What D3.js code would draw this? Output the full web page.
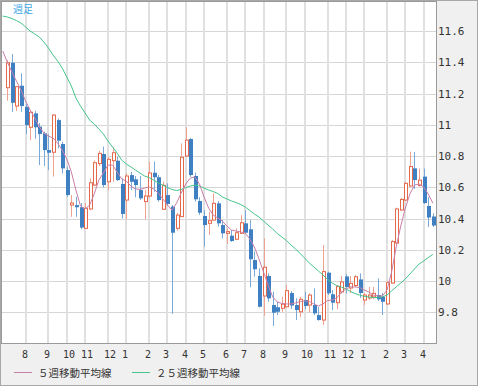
<!DOCTYPE html>
<html>
<head>
<meta charset="utf-8">
<script src="https://cdn.jsdelivr.net/npm/d3@7"></script>
<style>
  html, body { margin: 0; padding: 0; background: #f0f0f0; }
  svg { display: block; }
</style>
</head>
<body>
<div id="chart"></div>
<script>
// weekly candles, one per week (index 0 = first visible week)
const opens = [11.237,11.397,11.120,11.250,11.115,10.984,11.073,10.988,10.945,10.838,
  10.824,11.030,10.877,10.710,10.486,10.486,10.472,10.337,10.461,10.614,
  10.752,10.813,10.635,10.770,10.770,10.621,10.518,10.678,10.651,10.582,
  10.508,10.544,10.693,10.664,10.459,10.550,10.476,10.337,10.412,10.800,
  10.909,10.672,10.512,10.416,10.369,10.390,10.497,10.358,10.305,10.290,
  10.267,10.305,10.369,10.331,10.134,10.032,9.904,10.032,9.846,9.832,
  9.825,9.835,9.923,9.846,9.803,9.878,9.846,9.846,9.782,9.750,
  10.053,9.915,9.861,9.930,10.029,9.955,9.971,10.010,9.878,9.891,
  9.898,9.910,9.899,9.853,9.987,10.243,10.454,10.518,10.608,10.721,
  10.611,10.668,10.480,10.413]
const highs = [11.414,11.453,11.248,11.329,11.133,11.094,11.090,11.011,10.956,10.939,
  11.069,11.041,10.891,10.731,10.550,10.539,10.499,10.497,10.657,10.771,
  10.834,10.860,10.795,10.856,10.795,10.657,10.689,10.698,10.672,10.672,
  10.582,10.764,10.764,10.678,10.636,10.625,10.486,10.437,10.881,10.984,
  10.915,10.693,10.536,10.454,10.443,10.561,10.512,10.390,10.337,10.326,
  10.337,10.422,10.454,10.390,10.188,10.081,10.273,10.049,9.932,9.867,
  9.899,9.974,9.936,9.889,9.899,9.932,9.921,9.952,9.832,10.230,
  10.060,9.942,9.974,10.032,10.045,10.032,10.038,10.049,9.923,9.962,
  9.963,10.017,9.923,10.000,10.262,10.470,10.531,10.635,10.828,10.826,
  10.720,10.720,10.538,10.433]
const lows = [11.154,11.083,11.088,11.083,10.939,10.902,10.911,10.742,10.736,10.710,
  10.668,10.849,10.689,10.539,10.411,10.411,10.331,10.336,10.454,10.608,
  10.736,10.600,10.582,10.635,10.640,10.401,10.395,10.582,10.536,10.518,
  10.395,10.531,10.572,10.508,10.454,10.480,9.789,10.322,10.410,10.794,
  10.667,10.508,10.422,10.220,10.294,10.384,10.348,10.273,10.237,10.250,
  10.262,10.301,10.301,9.960,10.028,9.830,9.778,9.867,9.712,9.782,
  9.802,9.830,9.821,9.750,9.768,9.819,9.800,9.782,9.746,9.718,
  9.910,9.814,9.819,9.920,9.920,9.923,9.962,9.891,9.846,9.878,
  9.885,9.872,9.782,9.846,9.981,10.237,10.448,10.512,10.602,10.589,
  10.605,10.493,10.346,10.346]
const closes = [11.397,11.141,11.244,11.120,10.998,11.080,10.984,10.941,10.838,10.821,
  11.062,10.898,10.721,10.550,10.499,10.472,10.342,10.465,10.629,10.757,
  10.817,10.614,10.779,10.821,10.646,10.429,10.672,10.635,10.614,10.529,
  10.544,10.691,10.664,10.518,10.612,10.493,10.309,10.422,10.792,10.902,
  10.678,10.523,10.437,10.358,10.386,10.497,10.369,10.305,10.316,10.256,
  10.309,10.373,10.309,10.139,10.075,9.835,10.088,9.889,9.797,9.803,
  9.851,9.938,9.843,9.814,9.883,9.840,9.910,9.793,9.750,10.060,
  9.921,9.861,9.964,9.994,9.962,9.985,10.027,9.923,9.910,9.910,
  9.921,9.883,9.867,9.989,10.252,10.461,10.522,10.625,10.733,10.646,
  10.646,10.499,10.406,10.355]

// moving averages as drawn, starting one week before the first visible candle
const maFirstWeek = -1
const ma5 = [11.472,11.402,11.338,11.280,11.222,11.152,11.094,11.043,10.986,10.947,10.928,
  10.915,10.883,10.838,10.781,10.698,10.582,10.480,10.461,10.486,10.557,
  10.646,10.691,10.742,10.742,10.698,10.653,10.640,10.608,10.589,10.586,
  10.595,10.602,10.589,10.563,10.525,10.486,10.454,10.499,10.563,10.621,
  10.659,10.666,10.621,10.538,10.467,10.422,10.403,10.384,10.352,10.326,
  10.320,10.314,10.307,10.269,10.218,10.141,10.058,9.974,9.898,9.866,
  9.856,9.853,9.853,9.859,9.869,9.872,9.869,9.853,9.840,9.853,
  9.875,9.878,9.891,9.926,9.949,9.962,9.962,9.958,9.942,9.930,
  9.910,9.904,9.904,9.942,10.058,10.218,10.352,10.467,10.557,10.614,
  10.621,10.602,10.557,10.499]
const ma25 = [11.696,11.690,11.680,11.667,11.651,11.626,11.600,11.581,11.562,11.530,11.491,
  11.446,11.408,11.363,11.306,11.248,11.171,11.120,11.075,11.030,11.005,
  10.973,10.941,10.896,10.858,10.819,10.774,10.749,10.730,10.710,10.691,
  10.672,10.662,10.646,10.627,10.614,10.598,10.586,10.579,10.586,10.598,
  10.608,10.614,10.608,10.595,10.582,10.573,10.560,10.538,10.525,10.512,
  10.502,10.490,10.474,10.451,10.429,10.410,10.384,10.358,10.333,10.304,
  10.282,10.259,10.230,10.205,10.176,10.147,10.115,10.090,10.064,10.038,
  10.010,9.987,9.971,9.962,9.949,9.933,9.920,9.910,9.901,9.898,
  9.894,9.894,9.898,9.910,9.936,9.962,9.987,10.013,10.045,10.077,
  10.109,10.128,10.150,10.170]

// first week of each month and its label
const monthWeeks = [4,9,13,17,22,26,31,35,39,43,48,52,56,61,65,70,74,78,83,87,91]
const monthLabels = ['8','9','10','11','12','1','2','3','4','5','6','7','8','9','10','11','12','1','2','3','4']
const yTicks = [9.8,10,10.2,10.4,10.6,10.8,11,11.2,11.4,11.6]

const W = 478, H = 386
const plot = { left: 2, top: 2, right: 436, bottom: 343 }

const upColor = '#e4694c', upWick = '#f0a18f'
const downColor = '#3f80c2', downWick = '#78a9d9'
const ma5Color = '#c97fa6', ma25Color = '#45c48b'

const svg = d3.select('#chart').append('svg')
  .attr('width', W)
  .attr('height', H)

svg.append('rect')
  .attr('x', 0.5).attr('y', 0.5)
  .attr('width', W - 1).attr('height', H - 1)
  .attr('fill', '#f0f0f0')
  .attr('stroke', '#a8a8a8')

const x = d3.scaleLinear()
  .domain([-1.16, 93.7])
  .range([plot.left, plot.right])

const y = d3.scaleLinear()
  .domain([9.603, 11.786])
  .range([plot.bottom, plot.top])

svg.append('rect')
  .attr('x', plot.left).attr('y', plot.top)
  .attr('width', plot.right - plot.left).attr('height', plot.bottom - plot.top)
  .attr('fill', '#fff')

svg.append('clipPath').attr('id', 'clip')
  .append('rect')
  .attr('x', plot.left).attr('y', plot.top)
  .attr('width', plot.right - plot.left).attr('height', plot.bottom - plot.top)

// grid
const grid = svg.append('g')
grid.selectAll('.hg').data(yTicks).enter().append('line')
  .attr('x1', plot.left).attr('x2', plot.right)
  .attr('y1', d => Math.round(y(d)) + 0.5).attr('y2', d => Math.round(y(d)) + 0.5)
  .attr('stroke', '#d6d6d6')
grid.selectAll('.vg').data(monthWeeks).enter().append('line')
  .attr('x1', d => Math.round(x(d))).attr('x2', d => Math.round(x(d)))
  .attr('y1', plot.top).attr('y2', plot.bottom)
  .attr('stroke', '#e0e0e0')
  .attr('stroke-width', 2)

const g = svg.append('g').attr('clip-path', 'url(#clip)')

const candles = closes.map((c, i) => ({ i: i, o: opens[i], h: highs[i], l: lows[i], c: c }))

// wicks
g.selectAll('.wick').data(candles).enter().append('line')
  .attr('x1', d => Math.round(x(d.i)) + 0.5)
  .attr('x2', d => Math.round(x(d.i)) + 0.5)
  .attr('y1', d => y(d.h))
  .attr('y2', d => y(d.l))
  .attr('stroke', d => d.c >= d.o ? upWick : downWick)
  .attr('stroke-width', 1)

// bodies
g.selectAll('.down').data(candles.filter(d => d.c < d.o)).enter().append('rect')
  .attr('x', d => Math.round(x(d.i)) - 1)
  .attr('y', d => y(d.o))
  .attr('width', 4)
  .attr('height', d => Math.max(1.5, y(d.c) - y(d.o)))
  .attr('fill', downColor)

g.selectAll('.up').data(candles.filter(d => d.c >= d.o)).enter().append('rect')
  .attr('x', d => Math.round(x(d.i)) - 0.5)
  .attr('y', d => y(d.c))
  .attr('width', 3)
  .attr('height', d => Math.max(1, y(d.o) - y(d.c)))
  .attr('fill', '#fff')
  .attr('stroke', upColor)
  .attr('stroke-width', 1)

const line = d3.line()
  .x((d, i) => x(i + maFirstWeek))
  .y(d => y(d))

g.append('path').datum(ma25)
  .attr('d', line)
  .attr('fill', 'none')
  .attr('stroke', ma25Color)
  .attr('stroke-width', 1)

g.append('path').datum(ma5)
  .attr('d', line)
  .attr('fill', 'none')
  .attr('stroke', ma5Color)
  .attr('stroke-width', 1)

// plot frame
svg.append('rect')
  .attr('x', plot.left - 0.5).attr('y', plot.top - 0.5)
  .attr('width', plot.right - plot.left + 1).attr('height', plot.bottom - plot.top + 1)
  .attr('fill', 'none')
  .attr('stroke', '#9a9a9a')

svg.append('text')
  .attr('x', 13).attr('y', 13)
  .attr('font-family', "'Noto Sans CJK JP', sans-serif")
  .attr('font-size', 10)
  .attr('fill', '#3aa6e6')
  .text('週足')

// right axis labels
svg.append('g').selectAll('text').data(yTicks).enter().append('text')
  .attr('x', plot.right + 2)
  .attr('y', d => y(d) + 4)
  .attr('font-family', "'DejaVu Sans Mono', monospace")
  .attr('font-size', 11)
  .attr('fill', '#333')
  .text(d => d3.format('~g')(d))

// month labels
svg.append('g').selectAll('text').data(monthWeeks).enter().append('text')
  .attr('x', d => Math.round(x(d)) - 4)
  .attr('y', 358)
  .attr('font-family', "'DejaVu Sans Mono', monospace")
  .attr('font-size', 10)
  .attr('fill', '#333')
  .text((d, i) => monthLabels[i])

// legend
const legend = [
  { name: '５週移動平均線', color: ma5Color, x: 14 },
  { name: '２５週移動平均線', color: ma25Color, x: 132 }
]
const lg = svg.append('g').selectAll('g').data(legend).enter().append('g')
lg.append('line')
  .attr('x1', d => d.x).attr('x2', d => d.x + 18)
  .attr('y1', 372.5).attr('y2', 372.5)
  .attr('stroke', d => d.color)
lg.append('text')
  .attr('x', d => d.x + 24)
  .attr('y', 377)
  .attr('font-family', "'Noto Sans CJK JP', sans-serif")
  .attr('font-size', 10.5)
  .attr('fill', '#333')
  .text(d => d.name)
</script>
</body>
</html>
